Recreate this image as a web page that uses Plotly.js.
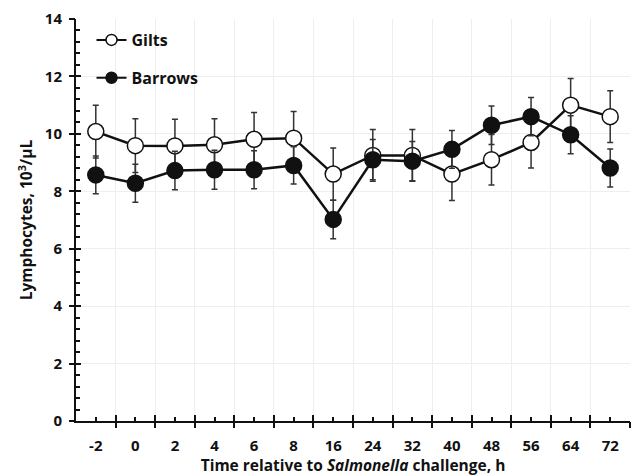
<!DOCTYPE html>
<html>
<head>
<meta charset="utf-8">
<script src="https://cdn.plot.ly/plotly-3.0.1.min.js"></script>
<style>html,body{margin:0;padding:0;background:#fff;}#chart{width:639px;height:476px;}</style>
</head>
<body>
<div id="chart"></div>
<script>
const categories = ["-2","0","2","4","6","8","16","24","32","40","48","56","64","72"];
const giltsMean = [10.08, 9.59, 9.58, 9.62, 9.81, 9.85, 8.6, 9.25, 9.25, 8.6, 9.1, 9.7, 11.0, 10.6];
const giltsSE   = [0.92, 0.94, 0.93, 0.91, 0.93, 0.93, 0.91, 0.9, 0.9, 0.92, 0.88, 0.89, 0.93, 0.9];
const barrowsMean = [8.57, 8.28, 8.72, 8.75, 8.75, 8.9, 7.02, 9.1, 9.05, 9.46, 10.3, 10.6, 9.97, 8.81];
const barrowsSE   = [0.66, 0.66, 0.67, 0.68, 0.66, 0.65, 0.67, 0.7, 0.68, 0.66, 0.67, 0.67, 0.66, 0.66];
const seriesNames = ["Gilts", "Barrows"];

const idx = categories.map((c, i) => i);
// overlay tick axes use coordinates shifted by +1 so that 0 is outside their range (no zero line)
const SHIFT = 1;
const boundsShifted = categories.map((c, i) => i + 0.5 + SHIFT);
const FONT = "'Open Sans', sans-serif";
const INK = '#111';
const fills = ['#fff', INK];

const traces = [
  {
    x: idx, y: giltsMean, name: seriesNames[0], type: 'scatter', mode: 'lines+markers', showlegend: false,
    line: {color: INK, width: 2.5},
    marker: {symbol: 'circle', size: 16, color: fills[0], line: {color: INK, width: 1.5}},
    error_y: {type: 'data', array: giltsSE, visible: true, color: '#333', thickness: 1.5, width: 3}
  },
  {
    x: idx, y: barrowsMean, name: seriesNames[1], type: 'scatter', mode: 'lines+markers', showlegend: false,
    line: {color: INK, width: 2.5},
    marker: {symbol: 'circle', size: 16, color: fills[1], line: {color: INK, width: 1.5}},
    error_y: {type: 'data', array: barrowsSE, visible: true, color: '#333', thickness: 1.5, width: 3}
  }
];
seriesNames.forEach((n, i) => {
  traces.push({
    x: [null], y: [null], name: n, legendgroup: 'g' + i, type: 'scatter', mode: 'lines+markers', showlegend: true,
    line: {color: INK, width: 2},
    marker: {symbol: 'circle', size: 11, color: fills[i], line: {color: INK, width: 1.5}}
  });
});

const xr = [-0.5, categories.length - 0.5];
const xrShifted = [xr[0] + SHIFT, xr[1] + SHIFT];
const yr = [0, 14];

const layout = {
  width: 639, height: 476,
  margin: {l: 76, r: 9, t: 19, b: 55},
  paper_bgcolor: '#fff', plot_bgcolor: '#fff',
  font: {family: FONT, size: 15, color: INK},
  showlegend: true,
  legend: {
    x: 0.028, y: 0.99, xanchor: 'left', yanchor: 'top', traceorder: 'grouped',
    bgcolor: 'rgba(0,0,0,0)', tracegroupgap: 14, itemwidth: 30,
    font: {family: FONT, size: 16, color: INK, weight: 'bold'}
  },
  xaxis: {
    range: xr, tickmode: 'array', tickvals: idx, ticktext: categories,
    ticks: 'inside', ticklen: 4, tickwidth: 2, tickcolor: INK,
    showline: true, linewidth: 2, linecolor: INK, showgrid: false, zeroline: false,
    ticklabelstandoff: 10,
    tickfont: {family: FONT, size: 15, color: INK, weight: 'bold'},
    title: {text: 'Time relative to <i>Salmonella</i> challenge, h', standoff: 0,
            font: {family: FONT, size: 15.5, color: INK, weight: 'bold'}}
  },
  xaxis2: {
    overlaying: 'x', anchor: 'y', range: xrShifted, tickmode: 'array', tickvals: boundsShifted,
    ticks: 'outside', ticklen: 6, tickwidth: 2, tickcolor: INK, showticklabels: false
  },
  xaxis3: {
    overlaying: 'x', anchor: 'y', range: xrShifted, tickmode: 'array', tickvals: boundsShifted,
    ticks: 'inside', ticklen: 6, tickwidth: 2, tickcolor: INK, showticklabels: false
  },
  yaxis: {
    range: yr, dtick: 2,
    ticks: 'inside', ticklen: 5, tickwidth: 2, tickcolor: INK,
    minor: {ticks: 'inside', ticklen: 4, tickcolor: INK, dtick: 0.4},
    showline: true, linewidth: 2, linecolor: INK, showgrid: false, zeroline: false,
    ticklabelstandoff: 9,
    tickfont: {family: FONT, size: 15, color: INK, weight: 'bold'},
    title: {text: 'Lymphocytes, 10<sup>3</sup>/µL', standoff: 8,
            font: {family: FONT, size: 15.5, color: INK, weight: 'bold'}}
  },
  yaxis2: {
    overlaying: 'y', anchor: 'x', range: yr, dtick: 2,
    ticks: 'outside', ticklen: 6, tickwidth: 2, tickcolor: INK, showticklabels: false
  }
};

traces.push({x: [SHIFT], y: [0], xaxis: 'x2', yaxis: 'y', mode: 'markers', marker: {opacity: 0}, showlegend: false, hoverinfo: 'skip'});
traces.push({x: [SHIFT], y: [0], xaxis: 'x3', yaxis: 'y', mode: 'markers', marker: {opacity: 0}, showlegend: false, hoverinfo: 'skip'});
traces.push({x: [0], y: [0], xaxis: 'x', yaxis: 'y2', mode: 'markers', marker: {opacity: 0}, showlegend: false, hoverinfo: 'skip'});

Plotly.newPlot('chart', traces, layout, {staticPlot: true, displayModeBar: false});
</script>
</body>
</html>
